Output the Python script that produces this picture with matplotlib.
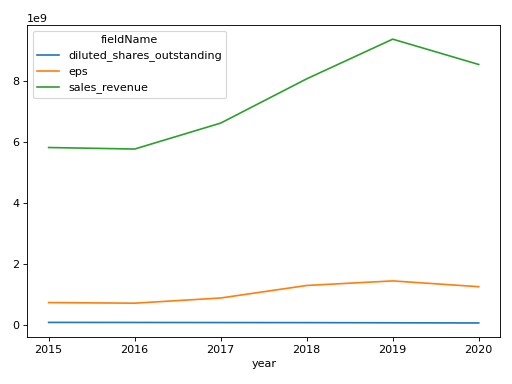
import matplotlib
matplotlib.use("Agg")
import matplotlib.pyplot as plt
import pandas as pd

years = [2015, 2016, 2017, 2018, 2019, 2020]
diluted_shares_outstanding = [0.10e9, 0.098e9, 0.095e9, 0.093e9, 0.088e9, 0.082e9]
eps = [0.75e9, 0.73e9, 0.90e9, 1.31e9, 1.46e9, 1.27e9]
sales_revenue = [5.83e9, 5.78e9, 6.63e9, 8.08e9, 9.38e9, 8.55e9]

df = pd.DataFrame({
    "diluted_shares_outstanding": diluted_shares_outstanding,
    "eps": eps,
    "sales_revenue": sales_revenue,
}, index=pd.Index(years, name="year"))
df.columns.name = "fieldName"

fig = plt.figure(figsize=(6.4, 4.8), dpi=80)
ax = fig.add_axes([0.053, 0.122, 0.924, 0.813])
df.plot(ax=ax)
fig.savefig("out.png", dpi=80)
